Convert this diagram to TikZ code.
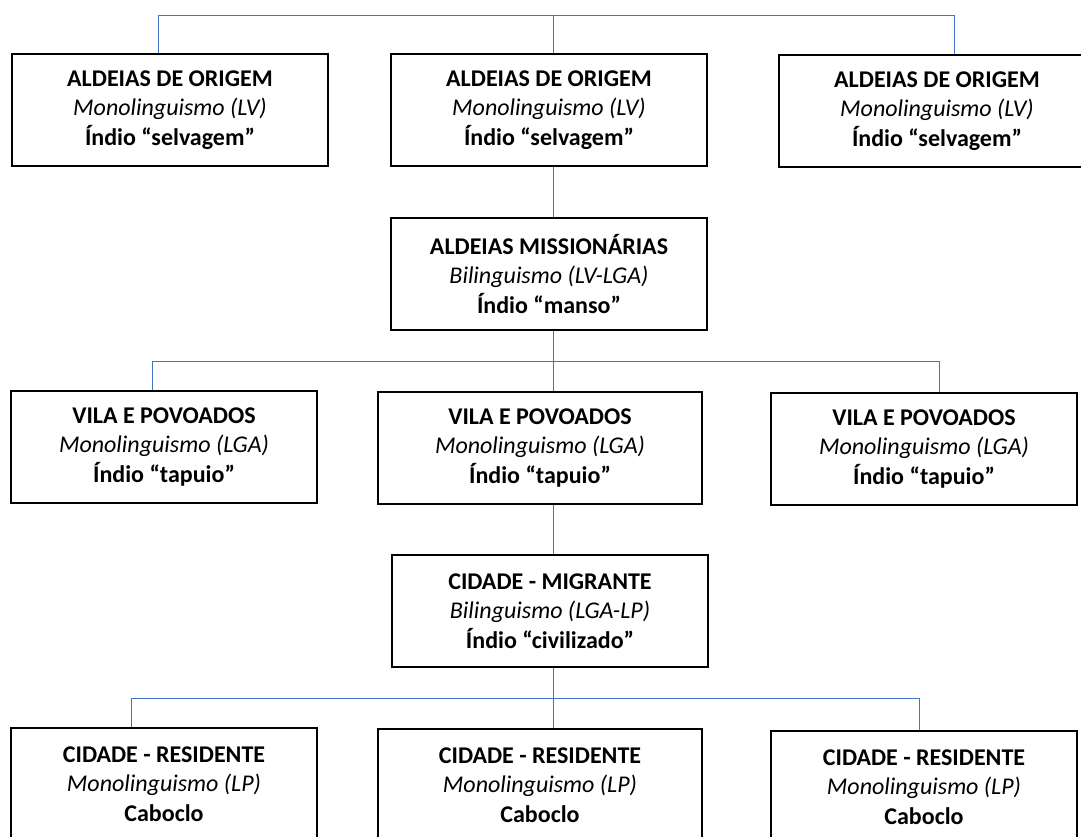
\documentclass[tikz,border=0pt]{standalone}
\usepackage{fontspec}
\setmainfont{Carlito}
\usepackage{xcolor}
\usetikzlibrary{positioning, calc}
\definecolor{linkblue}{HTML}{4472C4}
\newcommand{\placetext}[3]{\textbf{#1}\\\textit{#2}\\\textbf{#3}}

\begin{document}
\begin{tikzpicture}[x=0.5pt, y=-0.5pt,
                        placebox/.style={rectangle, draw=black, line width=0.7pt, minimum width=158pt, minimum height=56pt, inner sep=0pt, align=center, font=\fontsize{12}{14.75}\selectfont},
                        narrowbox/.style={placebox, minimum width=153pt},
                        widebox/.style={placebox, minimum width=162pt},
                        link/.style={draw=linkblue, line width=0.5pt},
                        ]
        \path[use as bounding box, clip] (0,0) rectangle (1081,836);

        %Nodes
        \node[placebox]   (OrigA)  at (170,110)  {\placetext{ALDEIAS DE ORIGEM}{Monolinguismo (LV)}{Índio “selvagem”}};
        \node[placebox]   (OrigB)  at (549,110)  {\placetext{ALDEIAS DE ORIGEM}{Monolinguismo (LV)}{Índio “selvagem”}};
        \node[placebox]   (OrigC)  at (937,111)  {\placetext{ALDEIAS DE ORIGEM}{Monolinguismo (LV)}{Índio “selvagem”}};

        \node[placebox]   (Miss)   at (549,274)  {\placetext{ALDEIAS MISSIONÁRIAS}{Bilinguismo (LV-LGA)}{Índio “manso”}};

        \node[narrowbox]  (VilaA)  at (164,447)  {\placetext{VILA E POVOADOS}{Monolinguismo (LGA)}{Índio “tapuio”}};
        \node[widebox]    (VilaB)  at (540,448)  {\placetext{VILA E POVOADOS}{Monolinguismo (LGA)}{Índio “tapuio”}};
        \node[narrowbox]  (VilaC)  at (924,449)  {\placetext{VILA E POVOADOS}{Monolinguismo (LGA)}{Índio “tapuio”}};

        \node[placebox]   (Migr)   at (550,611)  {\placetext{CIDADE - MIGRANTE}{Bilinguismo (LGA-LP)}{Índio “civilizado”}};

        \node[narrowbox]  (ResA)   at (164,784)  {\placetext{CIDADE - RESIDENTE}{Monolinguismo (LP)}{Caboclo}};
        \node[widebox]    (ResB)   at (540,785)  {\placetext{CIDADE - RESIDENTE}{Monolinguismo (LP)}{Caboclo}};
        \node[narrowbox]  (ResC)   at (924,787)  {\placetext{CIDADE - RESIDENTE}{Monolinguismo (LP)}{Caboclo}};

        %Bus ends and spine
        \coordinate (spine) at (553,0);
        \coordinate (topL) at (158,15);
        \coordinate (topR) at (954,15);
        \coordinate (midL) at (152,361);
        \coordinate (midR) at (939,361);
        \coordinate (lowL) at (131,698);
        \coordinate (lowR) at (919,698);

        %Lines
        \draw[link] (topL |- OrigA.north) -- (topL) -- (topR) -- (topR |- OrigC.north);
        \draw[link] (spine |- OrigB.north) -- (spine |- topL);
        \draw[link] (spine |- OrigB.south) -- (spine |- Miss.north);

        \draw[link] (midL |- VilaA.north) -- (midL) -- (midR) -- (midR |- VilaC.north);
        \draw[link] (spine |- Miss.south) -- (spine |- VilaB.north);
        \draw[link] (spine |- VilaB.south) -- (spine |- Migr.north);

        \draw[link] (lowL |- ResA.north) -- (lowL) -- (lowR) -- (lowR |- ResC.north);
        \draw[link] (spine |- Migr.south) -- (spine |- ResB.north);
    \end{tikzpicture}
\end{document}
